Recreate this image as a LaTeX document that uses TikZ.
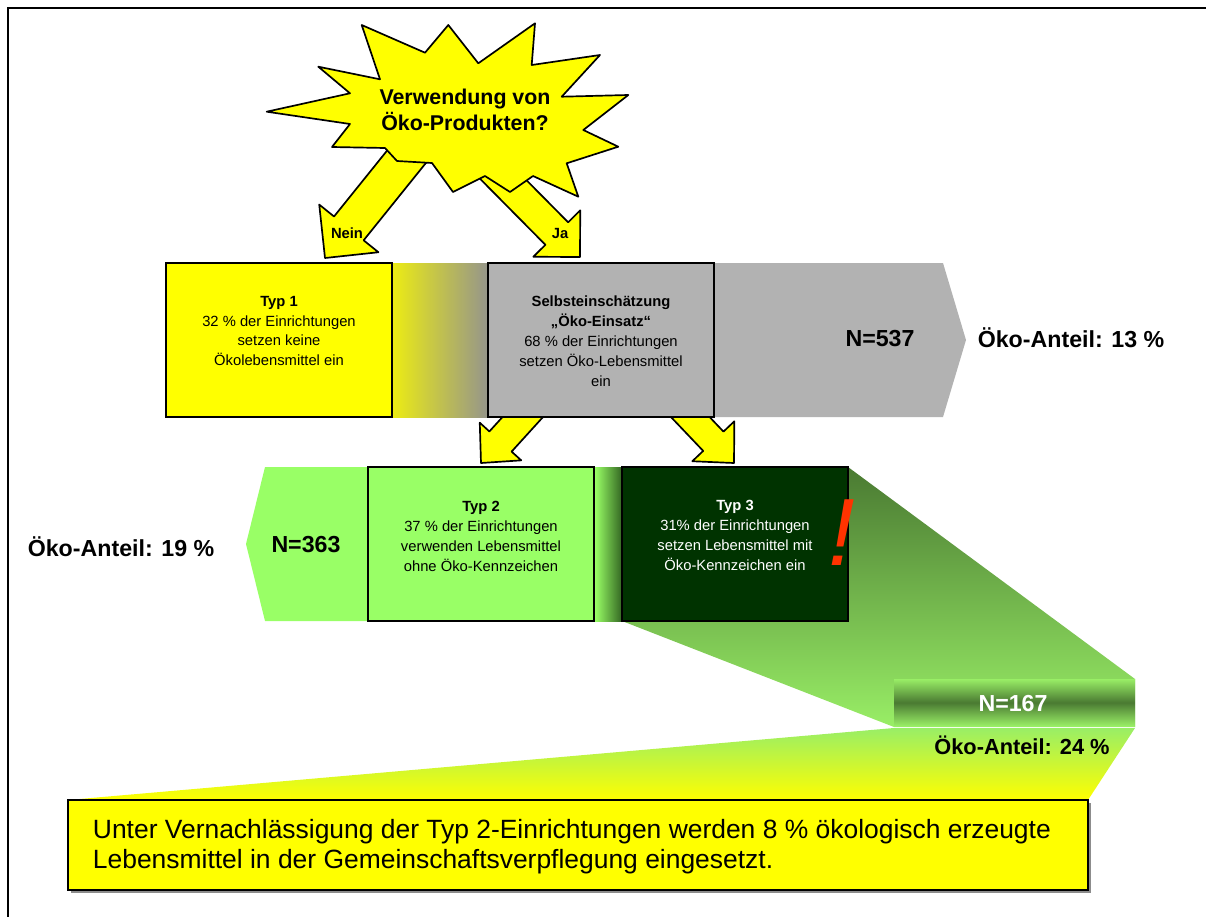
\documentclass[tikz,border=0pt]{standalone}
\usepackage{fontspec}
\setmainfont{Liberation Sans}
\usetikzlibrary{
  arrows.meta,
  positioning,
  calc
}
\definecolor{okYellow}{HTML}{FFFF00}
\definecolor{okGray}{HTML}{B2B2B2}
\definecolor{okOlive}{HTML}{95958B}
\definecolor{okGreen}{HTML}{99FF66}
\definecolor{okLight}{HTML}{99EE66}
\definecolor{okMid}{HTML}{4A7A32}
\definecolor{okDeep}{HTML}{336622}
\definecolor{okDark}{HTML}{003300}
\definecolor{okRed}{HTML}{FF3300}
\tikzset{
  frameline/.style={line width=1.4pt, black},
  typbox/.style={
    draw, line width=1.2pt, minimum width=56.5mm, minimum height=38.5mm,
    inner sep=0pt
  },
  boxtext/.style={font=\fontsize{10.5}{14.2}\selectfont, align=center},
  burst/.style={fill=okYellow, draw=black, line width=1.2pt, line join=round},
  question/.style={font=\fontsize{15.2}{19}\selectfont\bfseries, align=center},
  fatarrow/.style={fill=okYellow, draw=black, line width=1.2pt, line join=round},
  arrowlabel/.style={font=\fontsize{10.5}{12}\selectfont\bfseries},
  bignum/.style={font=\fontsize{16.5}{18}\selectfont\bfseries},
  share/.style={font=\fontsize{16.5}{18}\selectfont\bfseries},
  summary/.style={
    draw, line width=1.2pt, fill=okYellow, minimum width=255mm,
    minimum height=22.5mm, inner sep=0pt
  }
}
% block arrow: start, tip, half shaft, half head, head length (px)
\newcommand\okarrow[5]{%
  \coordinate (oa-s) at (#1);
  \coordinate (oa-t) at (#2);
  \coordinate (oa-h) at ($(oa-t)!#5*0.25mm!(oa-s)$);
  \filldraw[fatarrow]
    ($(oa-s)!#3*0.25mm!90:(oa-t)$) -- ($(oa-h)!#3*0.25mm!90:(oa-t)$) --
    ($(oa-h)!#4*0.25mm!90:(oa-t)$) -- (oa-t) --
    ($(oa-h)!#4*0.25mm!-90:(oa-t)$) -- ($(oa-h)!#3*0.25mm!-90:(oa-t)$) --
    ($(oa-s)!#3*0.25mm!-90:(oa-t)$) -- cycle;
}

\begin{document}
\begin{tikzpicture}[x=0.25mm, y=-0.25mm]
  \useasboundingbox (0,0) rectangle (1206,917);
  \draw[frameline] (8,917) -- (8,8) -- (1206,8);

  % question
  \okarrow{420,140}{325,258}{19}{38}{38}
  \okarrow{480,156}{580,257}{16}{33}{33}
  \filldraw[burst] (266.7,111.7) -- (350,93.3) -- (318.3,66.7) -- (380,79.3)
    -- (361.7,25) -- (425,52.7) -- (448.3,25) -- (478.3,63.3) -- (535,23.3)
    -- (531.7,65) -- (600,55) -- (561.7,96.7) -- (628.3,95) -- (583.3,130)
    -- (618.3,146.7) -- (566.7,163.3) -- (578.3,196.7) -- (533,176) -- (510,192)
    -- (485,176) -- (453,192) -- (432,163) -- (397,161) -- (385,148)
    -- (332,147) -- (350,124) -- cycle;
  \node[question] (question) at (465,110) {Verwendung von\\Öko-Produkten?};
  \node[arrowlabel] (nein) at (347,233) {Nein};
  \node[arrowlabel] (ja) at (560,233) {Ja};

  % first row
  \okarrow{540,398}{481,463}{15}{28}{29}
  \okarrow{676,402}{734,463}{14}{29}{30}
  \fill[okGray] (392,263) -- (943,263) -- (966,340) -- (943,417) -- (392,417) -- cycle;
  \shade[left color=okYellow!85!gray, right color=okOlive] (392,263) rectangle (488,417);
  \node[typbox, fill=okYellow] (typ1) at (279,340) {};
  \node[boxtext] (typ1txt) at (279,331) {\textbf{Typ 1}\\32 \% der Einrichtungen\\setzen keine\\Ökolebensmittel ein};
  \node[typbox, fill=okGray] (self) at (601,340) {};
  \node[boxtext] (selftxt) at (601,341) {\textbf{Selbsteinschätzung}\\\textbf{„Öko-Einsatz“}\\68 \% der Einrichtungen\\setzen Öko-Lebensmittel\\ein};
  \node[bignum] (n537) at (880,339) {N=537};
  \node[share] (share13) at (1071,338) {Öko-Anteil: 13 \%};

  % second row
  \fill[okGreen] (265,467) -- (600,467) -- (600,621) -- (265,621) -- (246,544) -- cycle;
  \node[typbox, fill=okGreen] (typ2) at (481,544) {};
  \node[boxtext] (typ2txt) at (481,536) {\textbf{Typ 2}\\37 \% der Einrichtungen\\verwenden Lebensmittel\\ohne Öko-Kennzeichen};
  \shade[left color=okGreen, right color=okDeep] (595,467) rectangle (622,621);
  \shade[top color=okMid, bottom color=okLight]
    (622,467) -- (848,467) -- (1135,679) -- (1135,727) -- (894,727) -- (622,621) -- cycle;
  \node[typbox, fill=okDark] (typ3) at (735,544) {};
  \node[boxtext, text=white] (typ3txt) at (735,535) {\textbf{Typ 3}\\31\% der Einrichtungen\\setzen Lebensmittel mit\\Öko-Kennzeichen ein};
  \node[font=\fontsize{68}{68}\selectfont\itshape, text=okRed, inner sep=0pt] (alert) at (842,533) {!};
  \node[bignum] (n363) at (306,545) {N=363};
  \node[share] (share19) at (121,547) {Öko-Anteil: 19 \%};

  % zoom to Typ 3
  \shade[top color=okLight, bottom color=okYellow]
    (894,728) -- (1135,728) -- (1088,800) -- (68,800) -- cycle;
  \shade[top color=okLight, bottom color=okLight, middle color=okMid]
    (894,679) rectangle (1135,726);
  \node[bignum, text=white] (n167) at (1013,704) {N=167};
  \node[share, font=\fontsize{15.5}{17}\selectfont\bfseries] (share24) at (1022,745) {Öko-Anteil: 24 \%};

  % summary
  \fill[black!45] (71,803) rectangle (1091,893);
  \node[summary] (sum) at (578,845) {};
  \node[font=\fontsize{18.8}{21.3}\selectfont, align=left, anchor=west] (sumtxt) at (88,847)
    {Unter Vernachlässigung der Typ 2-Einrichtungen werden 8 \% ökologisch erzeugte\\Lebensmittel in der Gemeinschaftsverpflegung eingesetzt.};
\end{tikzpicture}
\end{document}
